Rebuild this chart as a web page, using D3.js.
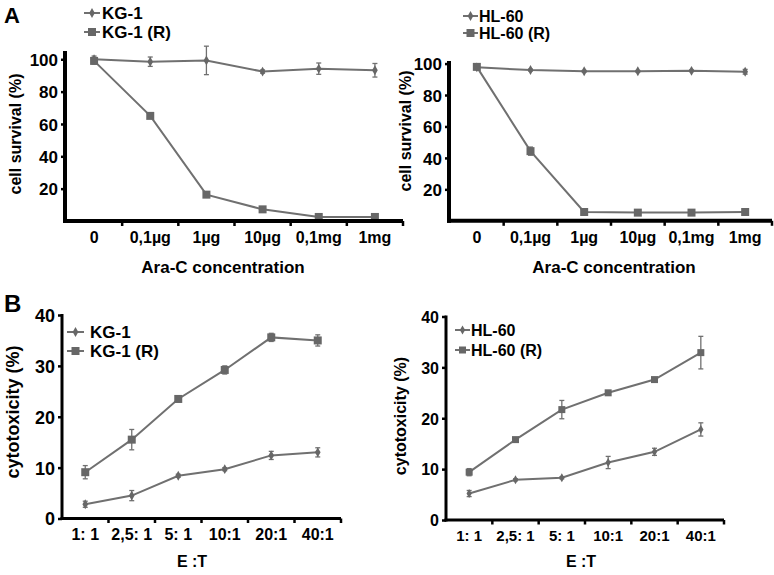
<!DOCTYPE html>
<html>
<head>
<meta charset="utf-8">
<script src="https://cdn.jsdelivr.net/npm/d3@7"></script>
<style>
  html, body { margin: 0; padding: 0; background: #fff; }
  svg { display: block; font-family: "Liberation Sans", Arial, sans-serif; }
</style>
</head>
<body>
<svg id="chart" width="774" height="575"></svg>
<script>
// ---------- DATA ----------
const concCategories = ["0", "0,1µg", "1µg", "10µg", "0,1mg", "1mg"];
const etCategories = ["1: 1", "2,5: 1", "5: 1", "10:1", "20:1", "40:1"];

const survivalTicks = [20, 40, 60, 80, 100];
const cytoTicks = [0, 10, 20, 30, 40];

// Panel A left
const kg1Survival = [100, 98.5, 99.3, 92.4, 94.2, 93.2];
const kg1SurvivalErr = [2, 2.9, 8.8, 1, 3.5, 4.2];
const kg1RSurvival = [99, 65, 16.3, 7.2, 2.5, 2.5];
const kg1RSurvivalErr = [2, 1, 1.2, 1, 0.8, 0.8];

// Panel A right
const hl60Survival = [97.6, 95.9, 95.1, 95.1, 95.4, 94.8];
const hl60SurvivalErr = [0.8, 0.6, 0.5, 0.5, 0.5, 1.5];
const hl60RSurvival = [97.9, 44.3, 5.6, 5.2, 5.2, 5.6];
const hl60RSurvivalErr = [0.8, 2.6, 0.6, 0.5, 0.5, 0.6];

// Panel B left
const kg1Cyto = [2.8, 4.5, 8.4, 9.7, 12.4, 13.0];
const kg1CytoErr = [0.6, 1.0, 0.3, 0.3, 0.8, 0.9];
const kg1RCyto = [9.1, 15.5, 23.5, 29.2, 35.6, 35.0];
const kg1RCytoErr = [1.3, 2.0, 0.6, 0.8, 0.8, 1.1];

// Panel B right
const hl60Cyto = [5.2, 7.9, 8.3, 11.3, 13.4, 17.8];
const hl60CytoErr = [0.6, 0.2, 0.2, 1.2, 0.7, 1.3];
const hl60RCyto = [9.4, 15.8, 21.7, 25.0, 27.6, 32.9];
const hl60RCytoErr = [0.7, 0.2, 1.8, 0.3, 0.3, 3.2];

// ---------- DRAWING ----------
const svg = d3.select("#chart");
const LINE = "#707070";
const MARK = "#676767";

function drawPanel(p) {
  const g = svg.append("g");
  const x = d3.scaleBand().domain(p.categories).range([p.x0, p.x1]);
  const y = d3.scaleLinear().domain(p.yDomain).range([p.yBottom, p.yTop]);

  p.series.forEach(s => {
    const pts = p.categories.map((c, i) => ({ c, v: s.values[i], e: s.err[i] }));
    const eb = g.append("g").attr("stroke", LINE).attr("stroke-width", 1.3).attr("fill", "none");
    pts.forEach(d => {
      const cx = x(d.c) + x.bandwidth() / 2;
      const yt = y(d.v + d.e), yb = y(d.v - d.e);
      eb.append("line").attr("x1", cx).attr("x2", cx).attr("y1", yt).attr("y2", yb);
      eb.append("line").attr("x1", cx - 2.5).attr("x2", cx + 2.5).attr("y1", yt).attr("y2", yt);
      eb.append("line").attr("x1", cx - 2.5).attr("x2", cx + 2.5).attr("y1", yb).attr("y2", yb);
    });
    g.append("path")
      .datum(pts)
      .attr("fill", "none")
      .attr("stroke", LINE)
      .attr("stroke-width", 2)
      .attr("d", d3.line().x(d => x(d.c) + x.bandwidth() / 2).y(d => y(d.v)));
    const sym = s.square ? d3.symbolSquare : d3.symbolDiamond;
    const size = s.square ? p.sqSize : p.dmSize;
    g.append("g").selectAll("path").data(pts).join("path")
      .attr("transform", d => `translate(${x(d.c) + x.bandwidth() / 2},${y(d.v)})`)
      .attr("d", d3.symbol().type(sym).size(size))
      .attr("fill", MARK);
  });

  const yAxis = d3.axisLeft(y).tickValues(p.yTicks).tickSize(4).tickFormat(d3.format("d"));
  const ya = g.append("g").attr("transform", `translate(${p.x0 - p.axisOff},0)`).call(yAxis);
  ya.select(".domain").remove();
  ya.append("line").attr("x1", 0).attr("x2", 0).attr("y1", p.yTop - 1).attr("y2", p.yBottom + p.axisW / 2)
    .attr("stroke", "#000").attr("stroke-width", p.axisW);
  ya.selectAll(".tick line").attr("stroke", "#000").attr("stroke-width", 2.5);
  ya.selectAll(".tick text").attr("fill", "#000").attr("font-size", p.yFont).attr("font-weight", "bold")
    .attr("x", -7).attr("dy", "0.36em");

  const xAxis = d3.axisBottom(x).tickSize(0);
  const xa = g.append("g").attr("transform", `translate(0,${p.yBottom})`).call(xAxis);
  xa.select(".domain").remove();
  xa.append("line").attr("x1", p.x0 - p.axisOff - p.axisW / 2).attr("x2", p.x1).attr("y1", 0).attr("y2", 0)
    .attr("stroke", "#000").attr("stroke-width", p.axisW);
  p.categories.forEach(c => {
    const bx = x(c) + x.bandwidth();
    xa.append("line").attr("x1", bx).attr("x2", bx).attr("y1", 0).attr("y2", p.axisW / 2 + 3)
      .attr("stroke", "#000").attr("stroke-width", 2.5);
  });
  xa.selectAll(".tick text").attr("fill", "#000").attr("font-size", p.xFont).attr("font-weight", "bold")
    .attr("y", p.xLabOff).attr("dy", "0.71em");

  g.append("text").attr("transform", `translate(${p.yTitleX},${p.yTitleY}) rotate(-90)`)
    .attr("text-anchor", "middle").attr("font-weight", "bold").attr("font-size", p.yTitleFont)
    .attr("dy", "0.35em").text(p.yTitle);
  g.append("text").attr("x", p.xTitleX).attr("y", p.xTitleY)
    .attr("text-anchor", "middle").attr("font-weight", "bold").attr("font-size", p.xTitleFont)
    .attr("dy", "0.35em").text(p.xTitle);

  p.series.forEach((s, i) => {
    const ly = p.legY + i * p.legGap;
    g.append("line").attr("x1", p.legX).attr("x2", p.legX + p.legLen).attr("y1", ly).attr("y2", ly)
      .attr("stroke", LINE).attr("stroke-width", 2);
    g.append("path").attr("transform", `translate(${p.legX + p.legLen / 2},${ly})`)
      .attr("d", d3.symbol().type(s.square ? d3.symbolSquare : d3.symbolDiamond).size(s.square ? p.sqSize : p.dmSize))
      .attr("fill", MARK);
    g.append("text").attr("x", p.legX + p.legLen + p.legTextGap).attr("y", ly).attr("dy", "0.36em")
      .attr("font-weight", "bold").attr("font-size", p.legFont).text(s.name);
  });
}

// Panel A left
drawPanel({
  categories: concCategories, x0: 66, x1: 403, yTop: 52, yBottom: 221, yDomain: [0, 104.5],
  yTicks: survivalTicks, axisW: 4, axisOff: 1, yFont: 17, xFont: 16, xLabOff: 11,
  series: [
    { name: "KG-1", values: kg1Survival, err: kg1SurvivalErr, square: false },
    { name: "KG-1 (R)", values: kg1RSurvival, err: kg1RSurvivalErr, square: true }
  ],
  sqSize: 64, dmSize: 28,
  yTitle: "cell survival (%)", yTitleX: 15, yTitleY: 134, yTitleFont: 16,
  xTitle: "Ara-C concentration", xTitleX: 223, xTitleY: 267, xTitleFont: 17,
  legX: 84, legY: 13, legGap: 19, legLen: 16, legTextGap: 2, legFont: 17
});

// Panel A right
drawPanel({
  categories: concCategories, x0: 450, x1: 772, yTop: 62, yBottom: 220.8, yDomain: [0, 101],
  yTicks: survivalTicks, axisW: 4, axisOff: 1, yFont: 17, xFont: 16, xLabOff: 11,
  series: [
    { name: "HL-60", values: hl60Survival, err: hl60SurvivalErr, square: false },
    { name: "HL-60 (R)", values: hl60RSurvival, err: hl60RSurvivalErr, square: true }
  ],
  sqSize: 64, dmSize: 28,
  yTitle: "cell survival (%)", yTitleX: 405, yTitleY: 131, yTitleFont: 16,
  xTitle: "Ara-C concentration", xTitleX: 614, xTitleY: 267, xTitleFont: 17,
  legX: 463, legY: 16, legGap: 17, legLen: 15, legTextGap: 1, legFont: 16
});

// Panel B left
drawPanel({
  categories: etCategories, x0: 62, x1: 341, yTop: 315, yBottom: 518.5, yDomain: [0, 40],
  yTicks: cytoTicks, axisW: 3, axisOff: 0, yFont: 18, xFont: 16, xLabOff: 10,
  series: [
    { name: "KG-1", values: kg1Cyto, err: kg1CytoErr, square: false },
    { name: "KG-1 (R)", values: kg1RCyto, err: kg1RCytoErr, square: true }
  ],
  sqSize: 64, dmSize: 28,
  yTitle: "cytotoxicity (%)", yTitleX: 13, yTitleY: 412, yTitleFont: 18,
  xTitle: "E :T", xTitleX: 192, xTitleY: 561, xTitleFont: 16,
  legX: 67, legY: 332, legGap: 19, legLen: 17, legTextGap: 6, legFont: 17
});

// Panel B right
drawPanel({
  categories: etCategories, x0: 446, x1: 724, yTop: 316.5, yBottom: 520, yDomain: [0, 40],
  yTicks: cytoTicks, axisW: 3, axisOff: 0, yFont: 16, xFont: 15, xLabOff: 10,
  series: [
    { name: "HL-60", values: hl60Cyto, err: hl60CytoErr, square: false },
    { name: "HL-60 (R)", values: hl60RCyto, err: hl60RCytoErr, square: true }
  ],
  sqSize: 49, dmSize: 24,
  yTitle: "cytotoxicity (%)", yTitleX: 400, yTitleY: 416, yTitleFont: 16,
  xTitle: "E :T", xTitleX: 581, xTitleY: 561, xTitleFont: 16,
  legX: 455, legY: 330, legGap: 20, legLen: 15, legTextGap: 1, legFont: 16
});

svg.append("text").attr("x", 4).attr("y", 23).attr("font-weight", "bold").attr("font-size", 22).text("A");
svg.append("text").attr("x", 4).attr("y", 312).attr("font-weight", "bold").attr("font-size", 24).text("B");
</script>
</body>
</html>
